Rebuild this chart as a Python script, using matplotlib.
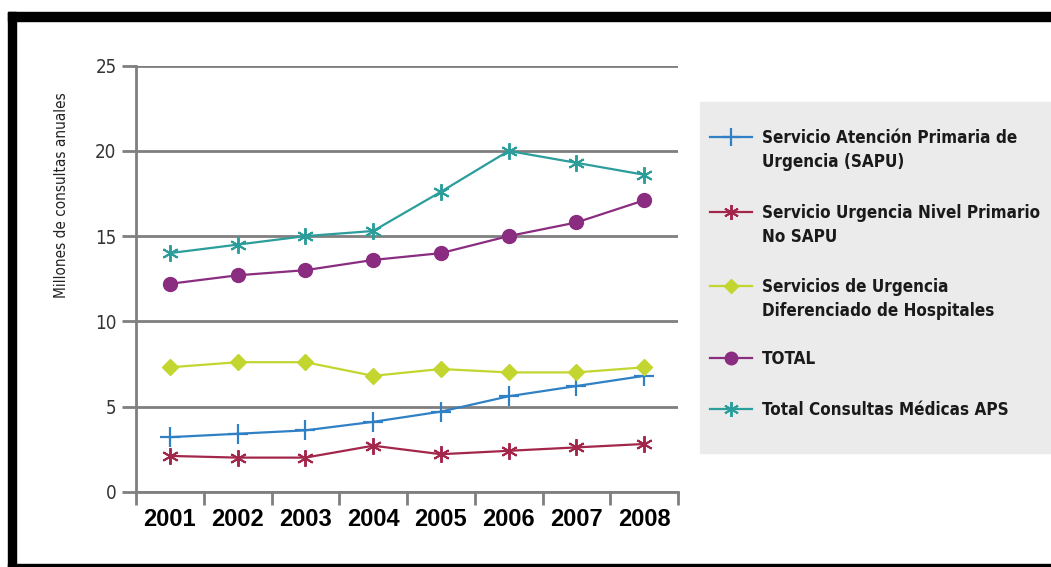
import matplotlib
matplotlib.use('Agg')
import matplotlib.pyplot as plt
from matplotlib.lines import Line2D
from matplotlib.patches import Rectangle

anios = ['2001', '2002', '2003', '2004', '2005', '2006', '2007', '2008']

sapu = [3.2, 3.4, 3.6, 4.1, 4.7, 5.6, 6.2, 6.8]
no_sapu = [2.1, 2.0, 2.0, 2.7, 2.2, 2.4, 2.6, 2.8]
hospitales = [7.3, 7.6, 7.6, 6.8, 7.2, 7.0, 7.0, 7.3]
total = [12.2, 12.7, 13.0, 13.6, 14.0, 15.0, 15.8, 17.1]
total_aps = [14.0, 14.5, 15.0, 15.3, 17.6, 20.0, 19.3, 18.6]

etiquetas = ['Servicio Atención Primaria de\nUrgencia (SAPU)',
             'Servicio Urgencia Nivel Primario\nNo SAPU',
             'Servicios de Urgencia\nDiferenciado de Hospitales',
             'TOTAL',
             'Total Consultas Médicas APS']

NARROW = ['DejaVu Sans']
W, H = 1051, 567

fig = plt.figure(figsize=(W / 100, H / 100), dpi=100)
ax = fig.add_axes([136 / W, 1 - 491.7 / H, (678 - 136) / W, (491.7 - 65.7) / H])

# estilo de cada serie: color, marcador, tamaño
estilos = [
    ('#2f80c4', '+', 15, 1.6),
    ('#a3264b', (6, 2, 0), 12, 1.4),
    ('#c3d52f', 'D', 8, 1.0),
    ('#8a2c80', 'o', 10, 1.0),
    ('#2b9e9c', (6, 2, 0), 12, 1.4),
]
series = [sapu, no_sapu, hospitales, total, total_aps]

x = range(len(anios))
for datos, (color, marca, ms, mew) in zip(series, estilos):
    ax.plot(x, datos, color=color, lw=1.6, marker=marca, ms=ms,
            mew=mew, mec=color, mfc=color, zorder=3)

gris = '#7f7f7f'
ax.set_xlim(-0.5, len(anios) - 0.5)
ax.set_ylim(0, 25)
ax.set_yticks([0, 5, 10, 15, 20, 25])
ax.yaxis.grid(True, color=gris, lw=2)
ax.set_axisbelow(True)
for lado in ['top', 'right']:
    ax.spines[lado].set_visible(False)
for lado in ['left', 'bottom']:
    ax.spines[lado].set_color(gris)
    ax.spines[lado].set_linewidth(2)

ax.set_xticks(list(x))
ax.set_xticklabels(anios, fontsize=17, fontweight='bold',
                   family=['Liberation Sans', 'DejaVu Sans'])
ax.set_xticks([i - 0.5 for i in range(len(anios) + 1)], minor=True)
ax.tick_params(axis='x', which='major', length=0, pad=12)
ax.tick_params(axis='x', which='minor', length=9, width=2, color=gris)
ax.tick_params(axis='y', length=10, width=2, color=gris, pad=4,
               labelcolor='#333333')
for t in ax.get_yticklabels():
    t.set_family(NARROW)
    t.set_stretch('condensed')
    t.set_fontsize(13.5)

fig.text(62 / W, 1 - 195 / H, 'Millones de consultas anuales', rotation=90,
         ha='center', va='center', fontsize=11, family=NARROW,
         stretch='condensed', color='#222222')

# cuadro de leyenda
fig.add_artist(Rectangle((700 / W, 1 - 453 / H), (W - 700) / W, (453 - 102) / H,
                         transform=fig.transFigure, color='#ebebeb', zorder=0))
filas = [137, 212, 286, 358, 409]
textos = []
for (color, marca, ms, mew), etiqueta, fy in zip(estilos, etiquetas, filas):
    yf = 1 - fy / H
    fig.add_artist(Line2D([710 / W, 752 / W], [yf, yf], transform=fig.transFigure,
                          color=color, lw=1.6))
    fig.add_artist(Line2D([731 / W], [yf], transform=fig.transFigure, color=color,
                          marker=marca, ms=ms * 0.9, mew=mew, mec=color, mfc=color))
    textos.append(fig.text(762 / W, yf, etiqueta, ha='left', va='baseline',
                           fontsize=14, fontweight='bold', family=NARROW,
                           stretch='condensed', color='#1a1a1a', linespacing=1.45))

# achicar la letra de la leyenda hasta que quepa en el cuadro
r = fig.canvas.get_renderer()
tam = 14
while tam > 8 and max(t.get_window_extent(r).x1 for t in textos) > 1042:
    tam -= 0.25
    for t in textos:
        t.set_fontsize(tam)
# la primera línea de cada etiqueta queda a la altura del marcador
for t, fy in zip(textos, filas):
    t.set_va('top')
    t.set_y(1 - (fy - 0.5 * tam * 1.0 - 2) / H)

# marco negro
negro = '#000000'
fig.add_artist(Rectangle((8 / W, 1 - 20.7 / H), (W - 8) / W, 8.7 / H,
                         transform=fig.transFigure, color=negro))
fig.add_artist(Rectangle((8 / W, 0), 8 / W, 1 - 12 / H,
                         transform=fig.transFigure, color=negro))
fig.add_artist(Rectangle((8 / W, 0), (W - 8) / W, 3 / H,
                         transform=fig.transFigure, color=negro))

fig.savefig('out.png', dpi=100)
